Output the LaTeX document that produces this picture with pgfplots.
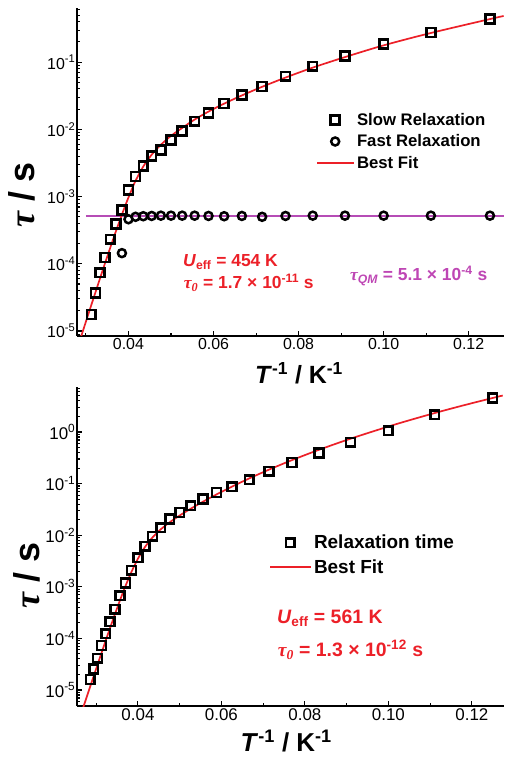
\documentclass[border=0pt]{standalone}
\usepackage{fontspec}
\setmainfont{Liberation Sans}
\newfontfamily\sgreek{Liberation Serif}
\usepackage{pgfplots}
\pgfplotsset{compat=1.18}
\definecolor{fitred}{RGB}{236,32,40}
\definecolor{qmmag}{RGB}{182,76,182}
\definecolor{qmtext}{RGB}{190,70,180}
\newcommand{\fsz}[1]{\fontsize{#1}{#1}\selectfont}
\newcommand{\tauit}{{\sgreek\itshape τ}}

\pgfplotsset{
  myaxis/.style={
    scale only axis, width=427bp,
    axis lines=left, axis line style={-, line width=1.6bp},
    enlargelimits=false, clip=true,
    tick align=inside,
    major tick length=5bp, minor tick length=2.8bp,
    tick style={black, line width=1.1bp},
    xtick={0.04,0.06,0.08,0.10,0.12},
    xticklabels={0.04,0.06,0.08,0.10,0.12},
    minor xtick={0.03,0.05,0.07,0.09,0.11},
    ytick={1e-5,1e-4,1e-3,1e-2,1e-1,1e0},
    yticklabels={10\textsuperscript{-5},10\textsuperscript{-4},10\textsuperscript{-3},10\textsuperscript{-2},10\textsuperscript{-1},10\textsuperscript{0}},
    minor ytick={2e-6,3e-6,4e-6,5e-6,6e-6,7e-6,8e-6,9e-6,
                 2e-5,3e-5,4e-5,5e-5,6e-5,7e-5,8e-5,9e-5,
                 2e-4,3e-4,4e-4,5e-4,6e-4,7e-4,8e-4,9e-4,
                 2e-3,3e-3,4e-3,5e-3,6e-3,7e-3,8e-3,9e-3,
                 2e-2,3e-2,4e-2,5e-2,6e-2,7e-2,8e-2,9e-2,
                 2e-1,3e-1,4e-1,5e-1,6e-1,7e-1,8e-1,9e-1,
                 2,3,4,5,6,7,8,9},
    yticklabel style={inner xsep=1.5bp},
    xticklabel style={inner ysep=2bp},
    legend cell align=left,
  },
  sq/.style={only marks, mark=square, mark size=4.4bp, mark options={line width=2.6bp, black}},
  ci/.style={only marks, mark=o, mark size=4.0bp, mark options={line width=2.5bp, black}},
}

\begin{document}
\begin{tikzpicture}
\useasboundingbox (0,0) rectangle (505bp,757bp);

% ---------------- top panel ----------------
\begin{semilogyaxis}[myaxis,
  at={(77bp,421bp)}, anchor=south west, height=328bp,
  xmin=0.0279, xmax=0.1283, ymin=8.42e-6, ymax=0.640,
  tick label style={font=\fsz{16}},
  xlabel={\textit{T}\textsuperscript{-1} / K\textsuperscript{-1}},
  xlabel style={font=\fsz{25}\bfseries, at={(axis description cs:0.52,0)}, anchor=base, yshift=-47bp},
  ylabel={\tauit\ / s},
  ylabel style={font=\fsz{36}\bfseries, at={(axis description cs:-0.129,0.43)}, anchor=center},
  legend style={at={(axis description cs:0.56,0.593)}, anchor=west, draw=none, fill=none,
     font=\fsz{16.8}\bfseries, inner sep=0pt, row sep=6bp, column sep=2bp,
     nodes={inner sep=1bp}},
  legend image code/.code={\draw[mark repeat=2,mark phase=2,#1] plot coordinates {(0bp,0bp) (18bp,0bp) (36bp,0bp)};},
]
\addplot[qmmag, line width=1.7bp, forget plot] coordinates {(0.030,5.1e-4) (0.1283,5.1e-4)};

\addplot[sq] coordinates {
(0.125,0.438) (0.111111,0.277) (0.1,0.186) (0.090909,0.123) (0.083333,0.0871)
(0.076923,0.0618) (0.071429,0.0435) (0.066667,0.0324) (0.0625,0.0242) (0.058824,0.0176)
(0.055556,0.0132) (0.052632,0.0094) (0.05,0.00697) (0.047619,0.00494) (0.045455,0.00402)
(0.043478,0.00285) (0.041667,0.00199) (0.04,0.00126) (0.038462,0.00063) (0.037037,0.000393)
(0.035714,0.000231) (0.034483,0.000124) (0.033333,7.35e-5) (0.032258,3.69e-5) (0.03125,1.76e-5)
};
\addlegendentry{Slow Relaxation}

\addplot[ci] coordinates {
(0.038462,1.44e-4) (0.04,4.6e-4) (0.041667,5.0e-4) (0.043478,5.1e-4) (0.045455,5.15e-4)
(0.047619,5.2e-4) (0.05,5.2e-4) (0.052632,5.2e-4) (0.055556,5.2e-4) (0.058824,5.15e-4)
(0.0625,5.1e-4) (0.066667,5.15e-4) (0.071429,5.0e-4) (0.076923,5.15e-4) (0.083333,5.2e-4)
(0.090909,5.2e-4) (0.1,5.2e-4) (0.111111,5.2e-4) (0.125,5.2e-4)
};
\addlegendentry{Fast Relaxation}

\addplot[fitred, line width=1.7bp, smooth] coordinates {
(0.028571,7.24e-6) (0.028902,8.4e-6) (0.029412,1.058e-5) (0.030303,1.58e-5) (0.03125,2.42e-5)
(0.032258,3.79e-5) (0.033333,6.12e-5) (0.034483,1.016e-4) (0.035714,1.73e-4) (0.037037,3.03e-4)
(0.038462,5.4e-4) (0.039216,7.25e-4) (0.04,9.7e-4) (0.040816,1.294e-3) (0.041667,1.72e-3)
(0.043478,2.8e-3) (0.045455,4.2e-3) (0.047619,5.9e-3) (0.05,8.0e-3) (0.052632,1.05e-2)
(0.055556,1.40e-2) (0.058824,1.84e-2) (0.0625,2.417e-2) (0.066667,3.20e-2) (0.071429,4.30e-2)
(0.076923,5.9e-2) (0.083333,8.3e-2) (0.090909,0.119) (0.1,0.178) (0.111111,0.272)
(0.125,0.438) (0.128205,0.487)
};
\addlegendentry{Best Fit}

\node[anchor=west, text=fitred, font=\fsz{17.5}\bfseries, inner sep=0pt] at (axis description cs:0.248,0.226)
  {\textit{U}\textsubscript{eff} = 454 K};
\node[anchor=west, text=fitred, font=\fsz{17.5}\bfseries, inner sep=0pt] at (axis description cs:0.250,0.162)
  {\tauit\textsubscript{\sgreek\itshape 0} = 1.7 × 10\textsuperscript{-11} s};
\node[anchor=west, text=qmtext, font=\fsz{17.5}\bfseries, inner sep=0pt] at (axis description cs:0.639,0.183)
  {\tauit\textsubscript{\itshape QM} = 5.1 × 10\textsuperscript{-4} s};
\end{semilogyaxis}

% ---------------- bottom panel ----------------
\begin{semilogyaxis}[myaxis,
  at={(77bp,51bp)}, anchor=south west, height=319bp,
  xmin=0.0254, xmax=0.1277, ymin=4.9e-6, ymax=7.45,
  tick label style={font=\fsz{17}},
  xlabel={\textit{T}\textsuperscript{-1} / K\textsuperscript{-1}},
  xlabel style={font=\fsz{26}\bfseries, at={(axis description cs:0.49,0)}, anchor=base, yshift=-45bp},
  ylabel={\tauit\ / s},
  ylabel style={font=\fsz{36}\bfseries, at={(axis description cs:-0.117,0.41)}, anchor=center},
  legend style={at={(axis description cs:0.45,0.474)}, anchor=west, draw=none, fill=none,
     font=\fsz{19}\bfseries, inner sep=0pt, row sep=7bp, column sep=2bp,
     nodes={inner sep=1bp}},
  legend image code/.code={\draw[mark repeat=2,mark phase=2,#1] plot coordinates {(0bp,0bp) (20bp,0bp) (40bp,0bp)};},
]
\addplot[sq] coordinates {
(0.028571,1.60e-5) (0.029412,2.55e-5) (0.030303,4.11e-5) (0.03125,7.28e-5) (0.032258,1.23e-4)
(0.033333,2.11e-4) (0.034483,3.68e-4) (0.035714,6.70e-4) (0.037037,1.19e-3) (0.038462,2.09e-3)
(0.04,3.65e-3) (0.041667,6.10e-3) (0.043478,9.53e-3) (0.045455,1.40e-2) (0.047619,2.06e-2)
(0.05,2.75e-2) (0.052632,3.73e-2) (0.055556,5.03e-2) (0.058824,6.73e-2) (0.0625,8.71e-2)
(0.066667,0.1186) (0.071429,0.173) (0.076923,0.256) (0.083333,0.392) (0.090909,0.631)
(0.1,1.06) (0.111111,2.16) (0.125,4.56)
};
\addlegendentry{Relaxation time}

\addplot[fitred, line width=1.7bp, smooth] coordinates {
(0.026882,4.57e-6) (0.027778,7.53e-6) (0.028571,1.175e-5) (0.029412,1.872e-5) (0.030303,3.067e-5)
(0.03125,5.165e-5) (0.032258,8.98e-5) (0.033333,1.603e-4) (0.034483,2.943e-4) (0.035714,5.525e-4)
(0.037037,1.046e-3) (0.038462,1.957e-3) (0.04,3.511e-3) (0.041667,5.87e-3) (0.043478,9.03e-3)
(0.045455,1.297e-2) (0.047619,1.783e-2) (0.05,2.410e-2) (0.052632,3.256e-2) (0.055556,4.448e-2)
(0.058824,6.169e-2) (0.0625,8.722e-2) (0.066667,0.1261) (0.071429,0.1870) (0.076923,0.2855)
(0.083333,0.4509) (0.090909,0.741) (0.1,1.277) (0.105263,1.711) (0.111111,2.331)
(0.117647,3.23) (0.125,4.566) (0.127389,5.09)
};
\addlegendentry{Best Fit}

\node[anchor=west, text=fitred, font=\fsz{19.5}\bfseries, inner sep=0pt] at (axis description cs:0.468,0.276)
  {\textit{U}\textsubscript{eff} = 561 K};
\node[anchor=west, text=fitred, font=\fsz{19.5}\bfseries, inner sep=0pt] at (axis description cs:0.470,0.176)
  {\tauit\textsubscript{\sgreek\itshape 0} = 1.3 × 10\textsuperscript{-12} s};
\end{semilogyaxis}
\end{tikzpicture}
\end{document}
